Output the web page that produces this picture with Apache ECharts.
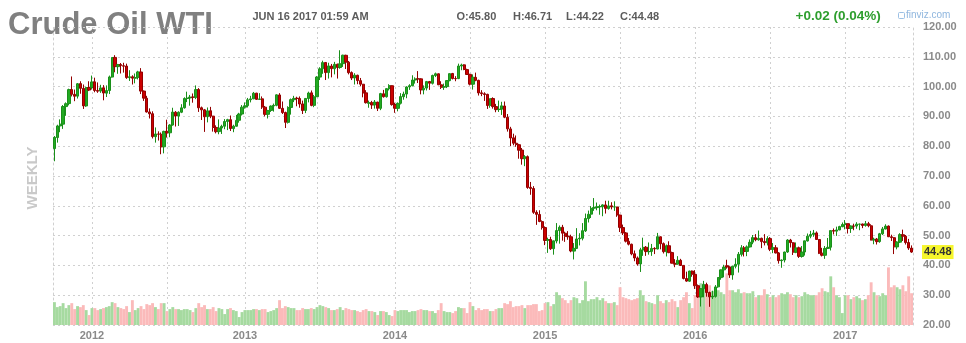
<!DOCTYPE html>
<html>
<head>
<meta charset="utf-8">
<script src="https://cdn.jsdelivr.net/npm/echarts@6.0.0/dist/echarts.min.js"></script>
<style>
html,body{margin:0;padding:0;background:#ffffff;}
#chart{width:966px;height:343px;}
</style>
</head>
<body>
<div id="chart"></div>
<script>
// First weekly bar (Monday of the week)
const firstWeek = [2011, 10, 3];

// Weekly OHLC of WTI crude, one line per calendar block
const opens = [
  79.20,82.90,86.80,87.40,93.30,94.30,99.00,97.40,96.80,101.00,99.40,93.50,99.70,
  99.70,101.60,98.70,98.50,99.60,97.80,98.70,103.20,109.80,106.70,107.40,107.00,106.90,103.00,103.30,102.80,103.10,104.90,98.50,96.10,91.50,90.90,83.20,84.10,84.00,79.80,85.00,84.50,87.10,91.40,90.10,91.40,92.90,96.00,96.20,96.50,96.40,99.00,92.90,92.20,89.90,91.90,90.10,86.30,84.90,86.10,86.70,88.30,88.90,85.90,86.70,88.70,90.80,
  93.10,93.60,95.60,95.90,97.80,95.70,95.90,93.10,90.70,92.00,93.50,93.70,97.20,92.70,91.30,88.00,93.00,95.60,96.10,96.00,94.20,92.00,96.00,97.90,93.70,96.60,103.20,106.00,108.10,104.70,106.90,106.00,107.50,106.40,107.70,110.50,108.20,104.70,102.90,103.80,102.00,100.80,97.90,94.40,94.60,93.80,94.80,92.70,97.60,96.60,99.30,100.30,
  94.00,92.70,94.40,96.60,97.50,99.90,100.30,102.20,102.60,102.60,98.90,99.50,101.70,101.10,103.70,104.30,100.60,99.80,100.00,102.00,104.40,102.70,102.70,106.90,107.30,105.70,104.10,100.80,103.10,102.10,97.90,97.60,97.40,93.70,96.00,93.30,92.30,92.40,93.50,89.70,85.80,82.80,81.00,80.50,78.70,75.80,76.50,66.20,65.80,57.80,57.10,54.70,
  52.70,48.40,48.70,45.60,48.20,51.70,52.80,50.80,49.80,49.60,44.80,45.70,48.90,49.10,51.60,55.70,57.20,59.20,59.40,59.70,59.70,60.30,59.10,60.00,59.60,59.60,56.90,52.70,50.90,48.10,47.10,43.90,42.50,40.50,45.20,46.10,44.60,44.70,45.70,45.50,49.60,47.30,44.60,46.60,44.30,40.70,40.40,41.70,40.00,35.60,34.70,38.10,
  37.00,33.20,29.40,32.20,33.60,30.90,29.40,29.60,32.80,35.90,38.50,39.90,39.50,36.80,39.70,40.40,43.70,45.90,44.70,46.20,47.80,49.30,48.60,49.10,48.00,47.60,49.00,45.40,45.90,44.20,41.60,41.80,44.50,48.50,47.60,44.40,45.90,43.00,44.50,48.20,49.80,50.40,50.90,48.70,44.10,43.40,45.70,46.10,51.70,51.50,51.90,53.00,
  53.70,54.00,52.40,53.20,53.20,53.80,53.90,53.40,54.00,53.30,48.50,48.80,48.00,50.60,52.20,53.20,49.60,49.30,46.20,47.80,50.30,49.80,47.70,45.80
];
const highs = [
  83.40,87.20,89.00,93.80,94.70,99.30,103.40,99.00,101.20,101.80,100.70,100.00,101.80,
  103.70,103.00,101.40,100.60,100.50,100.40,103.70,109.80,110.55,107.60,107.90,108.00,107.70,105.50,103.80,104.40,105.30,106.20,98.70,96.90,92.70,91.70,86.30,85.00,84.60,85.20,88.90,87.40,92.90,91.80,91.70,94.10,96.40,98.30,97.20,97.70,100.40,99.50,93.30,92.50,93.00,93.20,90.20,87.00,89.00,87.20,89.10,89.20,90.30,87.20,90.50,91.20,93.80,
  94.70,96.20,96.90,98.20,97.90,97.80,96.70,93.50,92.20,93.70,94.30,97.40,97.80,95.00,91.60,93.40,96.00,96.90,96.60,96.70,95.30,96.10,98.30,98.70,97.20,103.50,106.50,108.70,108.20,108.00,107.60,108.30,107.70,112.20,110.70,110.70,108.60,105.10,104.50,104.00,102.90,100.90,98.80,95.30,95.20,95.50,94.90,97.90,98.90,99.40,100.80,100.40,
  94.60,94.70,97.80,98.30,100.10,100.80,103.80,103.10,105.20,102.80,100.40,101.90,101.90,104.00,104.70,104.40,101.80,101.00,102.20,104.40,104.60,103.50,107.70,107.70,107.50,106.00,104.30,104.10,104.70,102.30,98.80,98.10,97.60,96.00,96.40,94.20,95.30,94.90,95.00,90.80,86.50,84.20,83.60,80.80,79.40,77.00,76.90,68.00,66.60,58.50,58.50,55.10,
  53.10,49.30,49.60,48.30,54.20,53.40,53.60,51.30,51.50,50.30,47.50,52.50,50.80,54.20,57.40,58.40,59.90,62.60,61.10,60.40,60.50,61.70,61.70,61.20,61.50,59.70,57.00,53.70,51.20,49.20,47.30,45.00,43.00,45.90,49.30,46.50,47.70,47.20,46.10,50.90,49.70,47.70,47.00,48.10,44.60,42.10,43.10,42.20,40.10,37.90,38.20,38.30,
  38.40,33.60,32.40,34.80,34.20,31.20,31.50,33.40,36.00,38.60,40.20,41.90,39.70,39.90,42.40,44.50,46.80,46.50,46.70,48.70,50.20,50.50,51.70,49.30,50.50,49.80,49.50,47.50,46.80,44.50,42.00,44.60,48.80,48.90,47.80,47.70,46.30,46.50,48.30,50.70,51.60,51.90,51.40,48.80,45.90,46.50,49.20,51.70,52.40,53.00,53.30,54.40,
  55.20,54.00,53.40,54.00,54.50,54.00,54.00,54.90,54.60,53.80,49.30,49.20,50.90,52.90,53.80,53.40,50.30,49.50,48.10,50.80,52.00,50.20,48.90,46.71
];
const lows = [
  74.95,81.20,84.70,85.80,90.20,93.70,96.70,95.10,96.00,97.60,92.50,93.20,98.50,
  99.00,98.10,97.90,97.90,95.40,96.50,97.50,103.00,104.80,104.30,104.40,104.70,102.60,101.90,100.70,101.10,102.40,97.50,95.20,91.30,89.30,82.60,81.20,81.90,77.30,77.60,82.90,83.00,86.90,86.60,86.80,91.10,92.60,94.80,93.60,94.60,95.80,91.50,88.80,84.80,88.00,89.40,84.90,84.30,84.00,84.10,85.70,85.40,85.10,84.70,86.60,87.90,90.30,
  92.60,93.00,94.70,95.80,95.50,95.50,92.50,90.00,89.30,91.50,91.60,93.40,92.50,90.80,86.10,87.60,90.60,94.80,93.40,92.90,90.80,91.10,94.70,93.40,93.10,96.50,102.20,104.30,102.20,102.70,103.10,104.10,102.70,106.00,106.60,105.90,104.10,102.20,100.70,100.80,100.10,96.40,94.30,92.90,92.50,92.60,91.80,92.10,96.30,96.30,98.70,93.60,
  91.20,91.70,94.00,95.60,96.10,98.90,100.10,101.00,101.20,97.40,97.40,98.70,98.90,100.70,103.20,100.50,99.20,98.90,99.50,101.80,102.40,101.80,102.50,105.50,105.50,103.90,100.40,99.00,101.80,97.00,96.80,95.20,92.50,92.90,92.60,91.40,91.50,90.50,89.40,84.90,80.00,80.30,79.80,75.80,73.80,73.30,65.70,63.70,57.30,53.60,54.50,52.00,
  46.80,44.20,45.20,43.60,47.40,47.30,48.30,47.90,48.60,44.40,42.00,45.60,46.70,48.40,51.20,54.40,55.90,58.30,58.50,57.00,56.50,57.40,58.70,58.80,58.30,56.30,51.20,50.20,47.70,46.70,43.40,41.40,39.90,37.80,43.20,43.20,43.60,43.20,43.80,45.40,45.40,44.00,43.00,44.10,40.70,39.40,40.30,39.80,35.30,34.50,34.50,36.20,
  32.10,29.10,26.20,29.30,29.50,26.10,28.70,29.20,32.50,35.20,36.00,38.90,35.80,35.20,39.00,37.60,43.00,43.00,43.10,46.00,47.10,48.10,48.30,45.80,46.70,46.70,44.80,44.10,44.00,40.60,39.20,41.00,44.20,46.00,43.50,44.10,42.50,42.60,43.30,48.00,49.10,49.60,48.60,43.80,43.00,42.20,45.60,45.00,50.40,49.90,51.80,52.80,
  52.10,50.70,50.90,51.80,52.30,51.80,52.50,53.00,52.80,48.40,47.10,47.00,47.60,50.20,52.10,49.50,48.20,43.80,45.40,47.50,48.20,47.00,45.20,44.22
];
const closes = [
  82.98,86.80,87.40,93.32,94.26,98.99,97.41,96.77,100.96,99.41,93.53,99.68,98.83,
  101.56,98.70,98.46,99.56,97.84,98.67,103.24,109.77,106.70,107.40,107.06,106.87,103.02,103.31,102.83,103.05,104.93,98.49,96.13,91.48,90.86,83.23,84.10,84.03,79.76,84.96,84.45,87.10,91.44,90.13,91.40,92.87,96.01,96.15,96.47,96.42,98.99,92.89,92.19,89.88,91.86,90.05,86.28,84.86,86.07,86.67,88.28,88.91,85.93,86.73,88.66,90.80,93.09,
  93.56,95.56,95.88,97.77,95.72,95.86,93.13,90.68,91.95,93.45,93.71,97.23,92.70,91.29,88.01,93.00,95.61,96.04,96.02,94.15,91.97,96.03,97.85,93.69,96.56,103.22,105.95,108.05,104.70,106.94,106.03,107.46,106.42,107.65,110.53,108.21,104.67,102.87,103.84,102.02,100.81,97.85,94.61,94.60,93.84,94.84,92.72,97.65,96.60,99.32,100.32,93.96,
  92.72,94.37,96.64,97.49,99.88,100.30,102.20,102.59,102.58,98.89,99.46,101.67,101.14,103.74,104.30,100.60,99.76,99.99,102.02,104.35,102.71,102.66,106.91,107.26,105.74,104.06,100.83,103.13,102.09,97.88,97.65,97.35,93.65,95.96,93.29,92.27,92.41,93.54,89.74,85.82,82.75,81.01,80.54,78.65,75.82,76.51,66.15,65.84,57.81,57.13,54.73,52.69,
  48.36,48.69,45.59,48.24,51.69,52.78,50.81,49.76,49.61,44.84,45.72,48.87,49.14,51.64,55.74,57.15,59.15,59.39,59.69,59.72,60.30,59.13,59.96,59.61,59.63,56.93,52.74,50.89,48.14,47.12,43.87,42.50,40.45,45.22,46.05,44.63,44.68,45.70,45.54,49.63,47.26,44.60,46.59,44.29,40.74,40.39,41.71,39.97,35.62,34.73,38.10,37.04,
  33.16,29.42,32.19,33.62,30.89,29.44,29.64,32.78,35.92,38.50,39.44,39.46,36.79,39.72,40.36,43.73,45.92,44.66,46.21,47.75,49.33,48.62,49.07,47.98,47.64,48.99,45.41,45.95,44.19,41.60,41.80,44.49,48.52,47.64,44.44,45.88,43.03,44.48,48.24,49.81,50.35,50.85,48.70,44.07,43.41,45.69,46.06,51.68,51.50,51.90,53.02,53.72,
  53.99,52.37,53.22,53.17,53.83,53.86,53.40,53.99,53.33,48.49,48.78,47.97,50.60,52.24,53.18,49.62,49.33,46.22,47.84,50.33,49.80,47.66,45.83,44.48
];
// Weekly volume (relative units)
const volumes = [
  23,18,19,22,17,20,22,16,19,18,20,15,10,
  17,17,15,16,17,18,19,23,22,18,17,16,19,13,25,15,17,19,16,21,20,22,18,16,22,22,14,16,18,16,16,15,16,16,15,13,17,22,18,20,16,16,18,14,17,16,11,16,17,15,14,8,13,
  15,15,15,16,16,15,16,16,13,14,15,17,25,17,19,18,17,17,15,15,17,16,16,17,16,18,20,19,18,17,15,15,16,18,15,17,16,15,15,14,13,15,16,14,14,13,10,14,14,13,10,9,
  15,14,15,15,15,13,14,14,15,16,15,15,14,14,12,15,22,14,13,13,12,14,18,17,17,12,23,19,15,17,15,16,16,14,14,16,17,17,22,21,24,18,19,19,20,17,20,20,21,21,14,15,
  22,23,19,21,33,30,27,25,22,25,28,27,22,25,44,24,26,26,28,25,27,24,22,22,23,20,38,28,27,26,25,26,27,35,30,24,23,22,21,30,24,22,25,23,26,24,18,25,28,33,22,17,
  30,38,42,40,36,40,34,36,35,33,31,52,35,35,33,36,32,33,32,32,34,28,30,30,36,31,28,30,28,30,32,31,33,31,28,30,28,29,33,31,30,30,30,33,37,34,33,49,38,30,28,12,
  30,30,26,28,29,27,25,26,30,43,33,30,29,32,30,58,38,40,38,36,40,34,49,32
];
const priceTicks = { min: 20, max: 120, step: 10 };
const volumeScaleMax = 300;
const headerDate = 'JUN 16 2017 01:59 AM';
const dayChange = '+0.02 (0.04%)';
const titleText = 'Crude Oil WTI';

const FONT = '"Liberation Sans", Arial, Helvetica, sans-serif';
const UP = '#22aa22', UP_BORDER = '#1a8f1a', DOWN = '#cc0000', DOWN_BORDER = '#930000';
const UP_VOL = '#a6daa0', DOWN_VOL = '#fbbaba';
const GRID_COLOR = '#d0d0d0';

const weeks = closes.map((_, i) => {
  const d = new Date(Date.UTC(firstWeek[0], firstWeek[1] - 1, firstWeek[2]) + i * 7 * 86400000);
  return d.toISOString().slice(0, 10);
});
const isYearStart = i => i > 0 && weeks[i].slice(0, 4) !== weeks[i - 1].slice(0, 4);
const isJulyStart = i => i > 0 && weeks[i].slice(5, 7) === '07' && weeks[i - 1].slice(5, 7) === '06';

const candleData = closes.map((c, i) => [opens[i], c, lows[i], highs[i]]);
const volData = volumes.map((v, i) => ({
  value: v,
  itemStyle: { color: closes[i] >= opens[i] ? UP_VOL : DOWN_VOL }
}));
const last = closes.length - 1;

const chart = echarts.init(document.getElementById('chart'), null, { renderer: 'canvas' });
chart.setOption({
  animation: false,
  backgroundColor: '#ffffff',
  grid: { left: 53, right: 53, top: 27, bottom: 18 },
  xAxis: {
    type: 'category',
    data: weeks,
    boundaryGap: true,
    axisLine: { show: false },
    axisTick: { show: false },
    axisLabel: {
      interval: (i) => isYearStart(i),
      formatter: v => v.slice(0, 4),
      color: '#8a8a8a', fontSize: 11, fontWeight: 'bold', fontFamily: FONT, margin: 5
    },
    splitLine: {
      show: true,
      interval: (i) => isYearStart(i) || isJulyStart(i),
      alignWithLabel: true,
      lineStyle: { color: GRID_COLOR, type: [2, 3], width: 1 }
    }
  },
  yAxis: [
    {
      type: 'value', position: 'right',
      min: priceTicks.min, max: priceTicks.max, interval: priceTicks.step,
      axisLine: { show: true, lineStyle: { color: GRID_COLOR, type: [2, 3] } },
      axisTick: { show: false },
      axisLabel: {
        margin: 10, color: '#8a8a8a', fontSize: 11, fontWeight: 'bold', fontFamily: FONT,
        formatter: v => v.toFixed(2)
      },
      splitLine: { show: true, lineStyle: { color: GRID_COLOR, type: [2, 3] } }
    },
    {
      type: 'value', position: 'left', min: 0, max: volumeScaleMax,
      axisLabel: { show: false }, axisTick: { show: false }, splitLine: { show: false },
      axisLine: { show: true, lineStyle: { color: GRID_COLOR, type: [2, 3] } }
    }
  ],
  series: [
    {
      type: 'bar', yAxisIndex: 1, data: volData,
      barCategoryGap: '0%', barWidth: '100%', z: 1, silent: true
    },
    {
      type: 'candlestick', yAxisIndex: 0, data: candleData,
      barWidth: 2.8, z: 2, silent: true,
      itemStyle: { color: UP, color0: DOWN, borderColor: UP_BORDER, borderColor0: DOWN_BORDER, borderWidth: 1 },
      markLine: {
        silent: true, symbol: ['none', 'none'], animation: false,
        data: [{ yAxis: closes[last] }],
        lineStyle: { color: 'rgba(0,0,0,0)', width: 0 },
        label: {
          show: true, position: 'end', distance: 9,
          formatter: p => Number(p.value).toFixed(2),
          backgroundColor: '#f6f62c', color: '#333333',
          fontSize: 11, fontWeight: 'bold', fontFamily: FONT, padding: [2, 2, 1, 2]
        }
      }
    }
  ],
  graphic: [
    { type: 'text', x: 8, y: 25, silent: true,
      style: { text: titleText, font: 'bold 31px ' + FONT, fill: '#808080', align: 'left', verticalAlign: 'middle' } },
    { type: 'text', x: 252.5, y: 17, silent: true,
      style: { text: headerDate, font: 'bold 11px ' + FONT, fill: '#5c5c5c', align: 'left', verticalAlign: 'middle' } },
    { type: 'text', x: 456.5, y: 17, silent: true,
      style: { text: 'O:' + opens[last].toFixed(2), font: 'bold 11px ' + FONT, fill: '#5c5c5c', align: 'left', verticalAlign: 'middle' } },
    { type: 'text', x: 513, y: 17, silent: true,
      style: { text: 'H:' + highs[last].toFixed(2), font: 'bold 11px ' + FONT, fill: '#5c5c5c', align: 'left', verticalAlign: 'middle' } },
    { type: 'text', x: 566, y: 17, silent: true,
      style: { text: 'L:' + lows[last].toFixed(2), font: 'bold 11px ' + FONT, fill: '#5c5c5c', align: 'left', verticalAlign: 'middle' } },
    { type: 'text', x: 620, y: 17, silent: true,
      style: { text: 'C:' + closes[last].toFixed(2), font: 'bold 11px ' + FONT, fill: '#5c5c5c', align: 'left', verticalAlign: 'middle' } },
    { type: 'text', x: 795.5, y: 16.5, silent: true,
      style: { text: dayChange, font: 'bold 13.5px ' + FONT, fill: '#2e9e2e', align: 'left', verticalAlign: 'middle' } },
    { type: 'rect', silent: true, shape: { x: 898.5, y: 12.5, width: 6, height: 6, r: 1 },
      style: { stroke: '#9cc0e4', fill: 'none', lineWidth: 1 } },
    { type: 'text', x: 906, y: 15.5, silent: true,
      style: { text: 'finviz.com', font: '10px ' + FONT, fill: '#8fb6de', align: 'left', verticalAlign: 'middle' } },
    { type: 'text', x: 32.5, y: 178, rotation: Math.PI / 2, silent: true,
      style: { text: 'WEEKLY', font: 'bold 15px ' + FONT, fill: '#c9c9c9', align: 'center', verticalAlign: 'middle' } }
  ]
});
</script>
</body>
</html>
